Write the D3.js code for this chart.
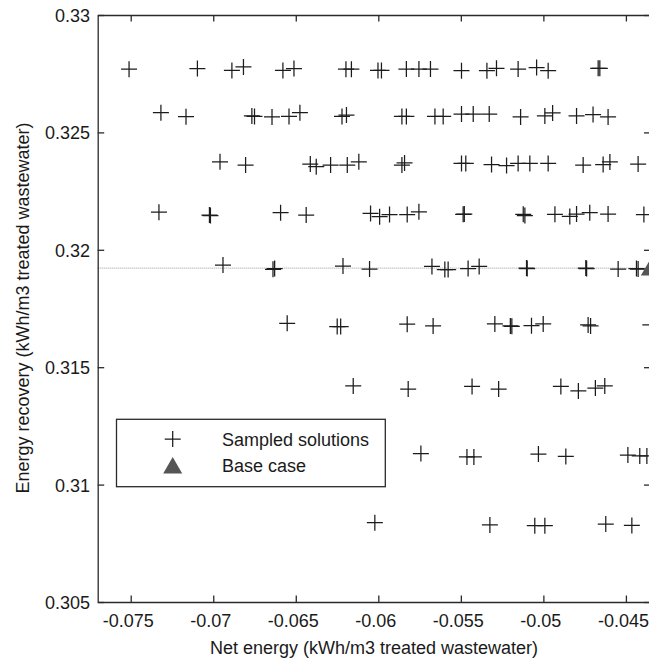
<!DOCTYPE html>
<html>
<head>
<meta charset="utf-8">
<script src="https://cdn.jsdelivr.net/npm/d3@7"></script>
<style>
  html, body { margin: 0; padding: 0; background: #fff; overflow: hidden; }
  svg { display: block; }
  text { font-family: "Liberation Sans", Arial, sans-serif; fill: #1a1a1a; }
</style>
</head>
<body>
<svg id="chart" width="649" height="661"></svg>
<script>
// Sampled design solutions: net energy vs. energy recovery (kWh/m3 treated wastewater)
const sampledNet = [
  // 0.3277 band
  -0.07510, -0.07096, -0.06887, -0.06817, -0.06578, -0.06511, -0.06196, -0.06163, -0.06002, -0.05981,
  -0.05830, -0.05754, -0.05684, -0.05496, -0.05342, -0.05284, -0.05153, -0.05041, -0.04971, -0.04668, -0.04658,
  // 0.3257 band
  -0.07317, -0.07165, -0.06766, -0.06750, -0.06644, -0.06541, -0.06475, -0.06220, -0.06193, -0.05857,
  -0.05830, -0.05657, -0.05607, -0.05496, -0.05425, -0.05328, -0.05138, -0.04991, -0.04944, -0.04799, -0.04699, -0.04608,
  // 0.3236 band
  -0.06959, -0.06804, -0.06412, -0.06376, -0.06289, -0.06188, -0.06118, -0.05857, -0.05841, -0.05496,
  -0.05470, -0.05314, -0.05223, -0.05153, -0.05082, -0.04971, -0.04759, -0.04638, -0.04597, -0.04426,
  // 0.3215 band
  -0.07329, -0.07023, -0.07017, -0.06592, -0.06437, -0.06047, -0.05992, -0.05932, -0.05825, -0.05754,
  -0.05486, -0.05479, -0.05122, -0.05112, -0.04930, -0.04840, -0.04799, -0.04719, -0.04608, -0.04391,
  // 0.3192 band
  -0.06941, -0.06638, -0.06628, -0.06214, -0.06053, -0.05675, -0.05597, -0.05577, -0.05456, -0.05389,
  -0.05102, -0.05098, -0.04743, -0.04738, -0.04547, -0.04436, -0.04426,
  // 0.3168 band
  -0.06552, -0.06249, -0.06228, -0.05825, -0.05668, -0.05294, -0.05200, -0.05191, -0.05072, -0.05001,
  -0.04729, -0.04714, -0.04352,
  // 0.3141 band
  -0.06152, -0.05819, -0.05432, -0.05271, -0.04894, -0.04788, -0.04685, -0.04628,
  // 0.3112 band
  -0.05742, -0.05463, -0.05421, -0.05030, -0.04864, -0.04488, -0.04416, -0.04373,
  // 0.3083 band
  -0.06021, -0.05324, -0.05052, -0.04991, -0.04622, -0.04464
];

const sampledRecovery = [
  0.32769, 0.32772, 0.32764, 0.32779, 0.32764, 0.32772, 0.32769, 0.32769, 0.32764, 0.32764,
  0.32770, 0.32770, 0.32770, 0.32763, 0.32763, 0.32773, 0.32770, 0.32776, 0.32763, 0.32773, 0.32773,

  0.32584, 0.32567, 0.32570, 0.32568, 0.32566, 0.32568, 0.32584, 0.32568, 0.32574, 0.32568,
  0.32568, 0.32568, 0.32568, 0.32578, 0.32578, 0.32578, 0.32566, 0.32570, 0.32583, 0.32570, 0.32576, 0.32566,

  0.32375, 0.32361, 0.32365, 0.32354, 0.32361, 0.32361, 0.32375, 0.32361, 0.32370, 0.32368,
  0.32368, 0.32363, 0.32359, 0.32368, 0.32368, 0.32368, 0.32361, 0.32363, 0.32374, 0.32365,

  0.32160, 0.32148, 0.32146, 0.32158, 0.32148, 0.32155, 0.32141, 0.32150, 0.32150, 0.32162,
  0.32151, 0.32152, 0.32151, 0.32146, 0.32151, 0.32142, 0.32152, 0.32158, 0.32152, 0.32150,

  0.31935, 0.31917, 0.31920, 0.31931, 0.31918, 0.31929, 0.31916, 0.31916, 0.31920, 0.31929,
  0.31922, 0.31920, 0.31922, 0.31920, 0.31918, 0.31920, 0.31918,

  0.31687, 0.31673, 0.31673, 0.31683, 0.31676, 0.31684, 0.31676, 0.31674, 0.31677, 0.31684,
  0.31680, 0.31676, 0.31680,

  0.31420, 0.31407, 0.31418, 0.31407, 0.31418, 0.31399, 0.31411, 0.31420,

  0.31132, 0.31118, 0.31118, 0.31130, 0.31120, 0.31126, 0.31122, 0.31122,

  0.30838, 0.30828, 0.30825, 0.30825, 0.30832, 0.30826
];

// Base case design
const baseNet = [-0.04352];
const baseRecovery = [0.31922];

// Axis ticks and labels
const xTicks = [-0.075, -0.07, -0.065, -0.06, -0.055, -0.05, -0.045];
const xTickLabels = ["-0.075", "-0.07", "-0.065", "-0.06", "-0.055", "-0.05", "-0.045"];
const yTicks = [0.305, 0.31, 0.315, 0.32, 0.325, 0.33];
const yTickLabels = ["0.305", "0.31", "0.315", "0.32", "0.325", "0.33"];

const xTitle = "Net energy (kWh/m3 treated wastewater)";
const yTitle = "Energy recovery (kWh/m3 treated wastewater)";
const legendLabels = ["Sampled solutions", "Base case"];

// Layout
const plot = { left: 97.7, right: 650.5, top: 15, bottom: 602 };
const axisColor = "#2a2a2a";
const markerColor = "#1c1c1c";
const baseColor = "#555555";
const fontSize = 18;

const svg = d3.select("#chart");

const x = d3.scaleLinear().domain([-0.077, -0.04351]).range([plot.left, plot.right]);
const y = d3.scaleLinear().domain([0.305, 0.33]).range([plot.bottom, plot.top]);

const fmtX = v => xTickLabels[xTicks.indexOf(v)];
const fmtY = v => yTickLabels[yTicks.indexOf(v)];

// Base-case reference line
svg.append("line")
  .attr("x1", plot.left).attr("x2", plot.right)
  .attr("y1", y(baseRecovery[0])).attr("y2", y(baseRecovery[0]))
  .attr("stroke", "#9a9a9a").attr("stroke-width", 1)
  .attr("stroke-dasharray", "1,1");

// Sampled solutions as "+" markers
const crossPath = "M-8,0H8M0,-8V8";
svg.append("g").selectAll("path")
  .data(sampledNet.map((v, i) => [v, sampledRecovery[i]]))
  .join("path")
  .attr("d", crossPath)
  .attr("transform", d => `translate(${x(d[0])},${y(d[1])})`)
  .attr("fill", "none")
  .attr("stroke", markerColor)
  .attr("stroke-width", 1.25);

// Base case triangle
const triPath = "M0,-9L9.5,7.5L-9.5,7.5Z";
svg.append("g").selectAll("path")
  .data(baseNet.map((v, i) => [v, baseRecovery[i]]))
  .join("path")
  .attr("d", triPath)
  .attr("transform", d => `translate(${x(d[0])},${y(d[1])})`)
  .attr("fill", baseColor);

// Axes (box with inward ticks)
function styleAxis(g) {
  g.select(".domain").attr("stroke", axisColor).attr("stroke-width", 1.3);
  g.selectAll(".tick line").attr("stroke", axisColor).attr("stroke-width", 1.3);
  g.selectAll("text")
    .attr("font-family", "'Liberation Sans', Arial, sans-serif")
    .attr("font-size", fontSize)
    .attr("fill", "#1a1a1a");
}

const gBottom = svg.append("g")
  .attr("transform", `translate(0,${plot.bottom})`)
  .call(d3.axisBottom(x).tickValues(xTicks).tickFormat(fmtX).tickSizeInner(-6.5).tickSizeOuter(0).tickPadding(0))
  .call(styleAxis);
gBottom.selectAll(".tick text").attr("y", 24.5).attr("dy", null).attr("dx", -3);

svg.append("g")
  .attr("transform", `translate(0,${plot.top})`)
  .call(d3.axisTop(x).tickValues(xTicks).tickFormat("").tickSizeInner(-6.5).tickSizeOuter(0))
  .call(styleAxis);

const gLeft = svg.append("g")
  .attr("transform", `translate(${plot.left},0)`)
  .call(d3.axisLeft(y).tickValues(yTicks).tickFormat(fmtY).tickSizeInner(-6.5).tickSizeOuter(0).tickPadding(7.7))
  .call(styleAxis);
gLeft.selectAll(".tick text").attr("dy", "0.36em");

svg.append("g")
  .attr("transform", `translate(${plot.right},0)`)
  .call(d3.axisRight(y).tickValues(yTicks).tickFormat("").tickSizeInner(-6.5).tickSizeOuter(0))
  .call(styleAxis);

// Axis titles
svg.append("text")
  .attr("x", 374).attr("y", 654)
  .attr("text-anchor", "middle")
  .attr("font-size", fontSize)
  .text(xTitle);

svg.append("text")
  .attr("transform", "translate(28.5,308) rotate(-90)")
  .attr("text-anchor", "middle")
  .attr("font-size", fontSize)
  .text(yTitle);

// Legend
const legend = svg.append("g");
legend.append("rect")
  .attr("x", 116.5).attr("y", 419.3)
  .attr("width", 268.8).attr("height", 67.4)
  .attr("fill", "#fff")
  .attr("stroke", axisColor).attr("stroke-width", 1.3);

legend.append("path")
  .attr("d", crossPath)
  .attr("transform", "translate(172.7,439)")
  .attr("fill", "none").attr("stroke", markerColor).attr("stroke-width", 1.25);

legend.append("path")
  .attr("d", triPath)
  .attr("transform", "translate(172.7,466)")
  .attr("fill", baseColor);

legend.selectAll("text.lbl")
  .data(legendLabels)
  .join("text")
  .attr("class", "lbl")
  .attr("x", 222)
  .attr("y", (d, i) => 445.5 + i * 26.5)
  .attr("font-size", fontSize)
  .text(d => d);
</script>
</body>
</html>
